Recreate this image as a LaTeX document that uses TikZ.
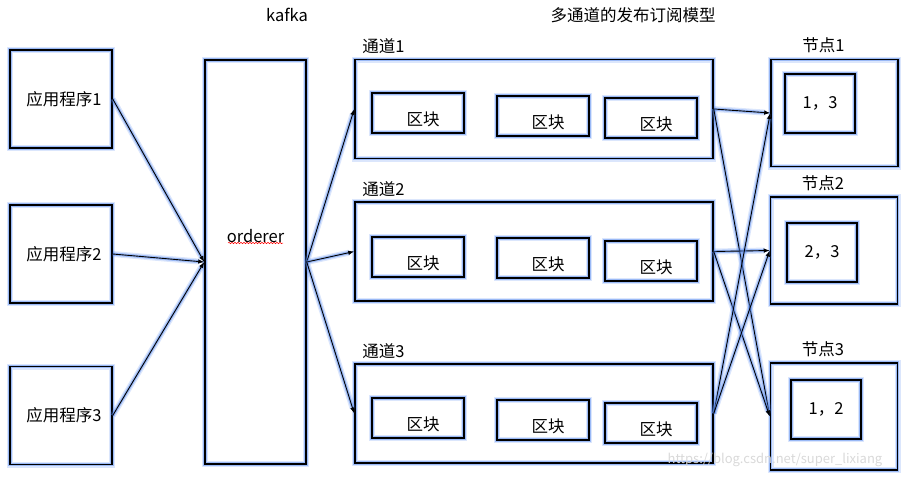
\documentclass[tikz,border=0pt]{standalone}
\usepackage{fontspec}
\setmainfont{Noto Sans CJK SC}
\usetikzlibrary{arrows.meta,decorations.pathmorphing}
\definecolor{glowblue}{RGB}{90,140,240}
\tikzset{
 glow/.style={preaction={draw=glowblue,line width=6pt,opacity=.22},preaction={draw=glowblue,line width=3.2pt,opacity=.5}},
 box/.style={draw,glow,line width=1.5pt,inner sep=0pt},
 appbox/.style={box,minimum width=102pt,minimum height=98pt},
 chan/.style={box,minimum width=358pt,minimum height=99pt,label={[anchor=base west,inner sep=0pt,xshift=8pt,yshift=6pt]north west:#1}},
 block/.style={box,minimum width=92pt,minimum height=40pt,label={[xshift=5pt,yshift=-6pt]center:区块}},
 peer/.style={box,minimum width=127pt,minimum height=107pt,label={[anchor=base,inner sep=0pt,xshift=-11pt,yshift=7pt]north:#1}},
 inbox/.style={box,minimum width=70pt,minimum height=59pt},
 link/.style={glow,-{Latex[length=6pt,width=4.5pt]},line width=0.9pt},
}

\begin{document}
\begin{tikzpicture}[x=1pt,y=-1pt,font=\fontsize{16.5}{19}\selectfont]
 	\useasboundingbox (0,0) rectangle (905,479);
 	\node (kafka) at (287,15) {kafka};
 	\node (model) at (633,15) {多通道的发布订阅模型};

 	\node[appbox] (app1) at (61,99) {\hspace*{6pt}应用程序1};
 	\node[appbox] (app2) at (61,254) {\hspace*{6pt}应用程序2};
 	\node[appbox] (app3) at (61,415.5) {\hspace*{6pt}应用程序3};

 	\node[box,minimum width=101pt,minimum height=404pt,label={[yshift=26pt]center:orderer}] (ord) at (255.5,262) {};
 	\draw[red,line width=.5pt,decorate,decoration={snake,amplitude=.7pt,segment length=3pt}] (228,243) -- (283,243);

 	\node[chan=通道1] (ch1) at (534,109) {};
 	\node[chan=通道2] (ch2) at (534,251.5) {};
 	\node[chan=通道3] (ch3) at (534,413.5) {};

 	\node[block] (b11) at (418,113) {};
 	\node[block] (b12) at (543,116) {};
 	\node[block] (b13) at (651,118) {};
 	\node[block] (b21) at (418,257) {};
 	\node[block] (b22) at (543,258) {};
 	\node[block] (b23) at (651,261) {};
 	\node[block] (b31) at (418,418) {};
 	\node[block] (b32) at (543,420) {};
 	\node[block] (b33) at (651,423) {};

 	\node[peer=节点1] (n1) at (834.5,113) {};
 	\node[peer=节点2] (n2) at (834,250.5) {};
 	\node[peer=节点3] (n3) at (834,416.5) {};
 	\node[inbox] (in1) at (820,103.5) {1，3};
 	\node[inbox] (in2) at (822,252.5) {2，3};
 	\node[inbox] (in3) at (826,409.5) {1，2};

 	\draw[link] (app1.east) -- (ord.west);
 	\draw[link] (app2.east) -- (ord.west);
 	\draw[link] (app3.east) -- (ord.west);
 	\draw[link] (ord.east) -- (ch1.west);
 	\draw[link] (ord.east) -- (ch2.west);
 	\draw[link] (ord.east) -- (ch3.west);
 	\draw[link] (ch1.east) -- (n1.west);
 	\draw[link] (ch1.east) -- (n3.west);
 	\draw[link] (ch2.east) -- (n2.west);
 	\draw[link] (ch2.east) -- (n3.west);
 	\draw[link] (ch3.east) -- (n1.west);
 	\draw[link] (ch3.east) -- (n2.west);

 	\node[text=gray!30,font=\fontsize{13}{15}\selectfont] (mark) at (775,460) {https://blog.csdn.net/super\_lixiang};
\end{tikzpicture}
\end{document}
